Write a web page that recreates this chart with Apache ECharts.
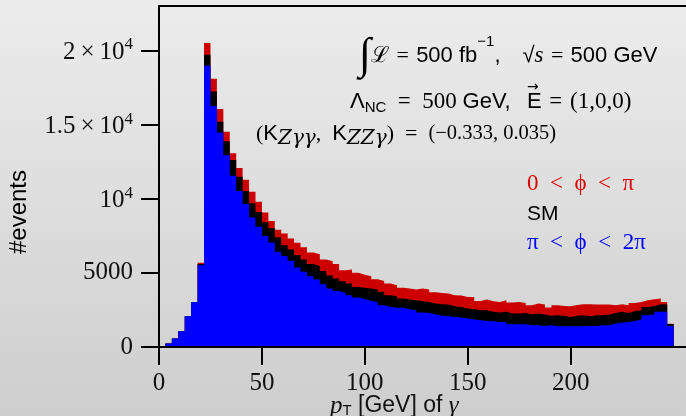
<!DOCTYPE html>
<html>
<head>
<meta charset="utf-8">
<style>
  html, body { margin: 0; padding: 0; }
  #main { width: 686px; height: 416px; }
</style>
<script src="https://cdn.jsdelivr.net/npm/echarts@6/dist/echarts.min.js"></script>
</head>
<body>
<div id="main"></div>
<script>
// bins of 3.125 GeV from 0 to 250
const binWidth = 3.125;
const xTicks = [0, 50, 100, 150, 200];
const yTicks = [0, 5000, 10000, 15000, 20000];

// 0 < phi < pi
const redValues = [
  0, 230, 570, 1060, 2070, 3040, 5680, 20500, 18090, 16060,
  14510, 13070, 12070, 11280, 10470, 9790, 9070, 8500, 7910, 7660,
  7320, 7030, 6720, 6380, 6260, 5900, 5790, 5590, 5180, 5230,
  5000, 4870, 4780, 4570, 4460, 4280, 4170, 3990, 3950, 3880,
  3950, 3880, 3700, 3650, 3610, 3490, 3470, 3380, 3380, 3110,
  3200, 3090, 3040, 3150, 3000, 3040, 2970, 2820, 2930, 2870,
  2660, 2820, 2770, 2750, 2840, 2880, 2880, 2870, 2870, 2870,
  2820, 2880, 2820, 2970, 3040, 3150, 3220, 3270, 3040, 1560
];
// SM
const smValues = [
  0, 230, 565, 1060, 2070, 3040, 5600, 19710, 17230, 15200,
  13880, 12610, 11490, 10520, 9690, 9100, 8410, 8010, 7410, 6870,
  6580, 6200, 5900, 5590, 5470, 5120, 4820, 4620, 4440, 4280,
  4050, 4000, 3950, 3880, 3720, 3490, 3430, 3270, 3200, 3160,
  3090, 3040, 2930, 2890, 2870, 2750, 2700, 2590, 2570, 2480,
  2480, 2370, 2320, 2370, 2260, 2260, 2300, 2210, 2260, 2190,
  2100, 2140, 2100, 2030, 2100, 2140, 2070, 2140, 2140, 2190,
  2300, 2370, 2300, 2430, 2480, 2700, 2770, 2880, 2870, 1550
];
// pi < phi < 2pi
const blueValues = [
  0, 228, 565, 1059, 2072, 3041, 5520, 18970, 16260, 14460,
  12930, 11550, 10520, 9640, 8740, 8110, 7490, 7040, 6420, 6130,
  5810, 5370, 5070, 4780, 4550, 4240, 3950, 3780, 3650, 3490,
  3340, 3230, 3110, 3040, 2820, 2700, 2640, 2640, 2530, 2480,
  2320, 2300, 2210, 2100, 2070, 2030, 1990, 1920, 1850, 1800,
  1760, 1740, 1690, 1690, 1530, 1530, 1530, 1470, 1470, 1420,
  1470, 1400, 1400, 1400, 1400, 1400, 1420, 1420, 1470, 1470,
  1580, 1650, 1690, 1760, 1850, 2140, 2190, 2370, 2370, 1420
];

const serif = '"Liberation Serif", "DejaVu Serif", serif';
const sans = '"Liberation Sans", Arial, sans-serif';
const sp = '\u2002'; // en space
const ts = '\u2004'; // three-per-em space, around "="

// turn bin contents into step points at the bin edges
function histPoints(values) {
  const pts = values.map((v, i) => [i * binWidth, v]);
  pts.push([values.length * binWidth, values[values.length - 1]]);
  return pts;
}

function histSeries(name, values, color) {
  return {
    name: name,
    type: 'line',
    step: 'end',
    symbol: 'none',
    silent: true,
    data: histPoints(values),
    lineStyle: { width: 0, opacity: 0 },
    areaStyle: { color: color, opacity: 1 },
  };
}

const chart = echarts.init(document.getElementById('main'));
const option = {
  backgroundColor: new echarts.graphic.LinearGradient(0, 0, 0, 1, [
    { offset: 0, color: '#ececec' },
    { offset: 1, color: '#cecece' },
  ]),
  animation: false,
  grid: { left: 159, top: 6, width: 529, height: 341 },
  xAxis: [
    {
      type: 'value',
      min: 0,
      max: 256,
      axisLine: { lineStyle: { color: '#000', width: 2 } },
      axisTick: { length: 18, lineStyle: { color: '#000', width: 2 }, customValues: xTicks },
      axisLabel: { customValues: xTicks, margin: 24, color: '#111', fontSize: 25, fontFamily: serif },
      splitLine: { show: false },
      z: 10,
    },
    {
      type: 'value',
      position: 'top',
      min: 0,
      max: 256,
      axisLine: { lineStyle: { color: '#000', width: 2 } },
      axisTick: { show: false },
      axisLabel: { show: false },
      splitLine: { show: false },
    },
  ],
  yAxis: {
    type: 'value',
    min: 0,
    max: 23000,
    axisLine: { show: true, lineStyle: { color: '#000', width: 2 } },
    axisTick: { show: true, length: 18, lineStyle: { color: '#000', width: 2 }, customValues: yTicks },
    axisLabel: {
      customValues: yTicks,
      margin: 26,
      color: '#111',
      fontSize: 25,
      fontFamily: serif,
      formatter: (v) => {
        if (v === 20000) return '{n|2\u2009×\u200910}{s|4}';
        if (v === 15000) return '{n|1.5\u2009×\u200910}{s|4}';
        if (v === 10000) return '{n|10}{s|4}';
        return String(v);
      },
      rich: {
        n: { fontSize: 25, fontFamily: serif, color: '#111', lineHeight: 28, padding: [4, 0, 0, 0] },
        s: { fontSize: 17, fontFamily: serif, color: '#111', lineHeight: 14, verticalAlign: 'top' },
      },
    },
    splitLine: { show: false },
    z: 10,
  },
  series: [
    histSeries('0 < ϕ < π', redValues, '#cc0000'),
    histSeries('SM', smValues, '#000000'),
    histSeries('π < ϕ < 2π', blueValues, '#0000ff'),
  ],
  graphic: [
    {
      type: 'text', x: 19, y: 212, rotation: Math.PI / 2,
      style: { text: '#events', font: '24px ' + sans, fill: '#000', align: 'center', verticalAlign: 'middle' },
    },
    {
      type: 'text', x: 330, y: 406,
      style: {
        text: '{it|p}{sub|T}{t| [GeV] of }{it|γ}',
        verticalAlign: 'middle',
        rich: {
          it: { font: 'italic 25px ' + serif, fill: '#111', lineHeight: 24 },
          sub: { font: '15px ' + sans, fill: '#111', lineHeight: 14, verticalAlign: 'bottom' },
          t: { font: '23px ' + sans, fill: '#111', lineHeight: 24 },
        },
      },
    },
    {
      type: 'text', x: 359, y: 56,
      style: {
        text: '{int|∫}{L|ℒ}{eq|' + ts + '=' + ts + '}{t|500 fb}{sup|−1}{t|,' + sp + sp + '√}{it|s}{eq|' + ts + '=' + ts + '}{t|500 GeV}',
        verticalAlign: 'middle',
        rich: {
          int: { font: '44px ' + serif, fill: '#000', lineHeight: 44 },
          L: { font: '22px ' + serif, fill: '#000', lineHeight: 24 },
          eq: { font: '22px ' + serif, fill: '#000', lineHeight: 24 },
          t: { font: '22px ' + sans, fill: '#000', lineHeight: 24 },
          it: { font: 'italic 23px ' + serif, fill: '#000', lineHeight: 24 },
          sup: { font: '15px ' + sans, fill: '#000', lineHeight: 30, verticalAlign: 'top' },
        },
      },
    },
    {
      type: 'text', x: 350, y: 102,
      style: {
        text: '{s|Λ}{sub|NC}{t|' + sp + '=' + sp + '500 }{s|GeV,}',
        verticalAlign: 'middle',
        rich: {
          t: { font: '23px ' + serif, fill: '#000', lineHeight: 26 },
          s: { font: '22px ' + sans, fill: '#000', lineHeight: 26 },
          sub: { font: '15px ' + sans, fill: '#000', lineHeight: 14, verticalAlign: 'bottom' },
        },
      },
    },
    {
      type: 'text', x: 527, y: 102,
      style: {
        text: '{s|E}{t|' + ts + '=' + ts + '(1,0,0)}',
        verticalAlign: 'middle',
        rich: {
          t: { font: '23px ' + serif, fill: '#000', lineHeight: 26 },
          s: { font: '22px ' + sans, fill: '#000', lineHeight: 26 },
        },
      },
    },
    {
      type: 'text', x: 527, y: 87,
      style: { text: '→', font: '14px "DejaVu Sans", sans-serif', fill: '#000', verticalAlign: 'middle' },
    },
    {
      type: 'text', x: 256, y: 134,
      style: {
        text: '{t|(}{k|K}{sub|Zγγ}{t|,' + sp + '}{k|K}{sub|ZZγ}{t|)' + sp + '=' + sp + '}{n|(−0.333, 0.035)}',
        verticalAlign: 'middle',
        rich: {
          t: { font: '22px ' + serif, fill: '#000', lineHeight: 30 },
          n: { font: '20.5px ' + serif, fill: '#000', lineHeight: 30 },
          k: { font: '22px ' + sans, fill: '#000', lineHeight: 30 },
          sub: { font: 'italic 20px "DejaVu Serif", serif', fill: '#000', lineHeight: 12, verticalAlign: 'bottom' },
        },
      },
    },
    {
      type: 'text', x: 527, y: 184,
      style: { text: '0' + sp + '<' + sp + 'ϕ' + sp + '<' + sp + 'π', font: '23px ' + serif, fill: '#dd0000', verticalAlign: 'middle' },
    },
    {
      type: 'text', x: 527, y: 214,
      style: { text: 'SM', font: '21px ' + sans, fill: '#000', verticalAlign: 'middle' },
    },
    {
      type: 'text', x: 527, y: 243,
      style: { text: 'π' + sp + '<' + sp + 'ϕ' + sp + '<' + sp + '2π', font: '23px ' + serif, fill: '#0000ff', verticalAlign: 'middle' },
    },
  ],
};
chart.setOption(option);
</script>
</body>
</html>
